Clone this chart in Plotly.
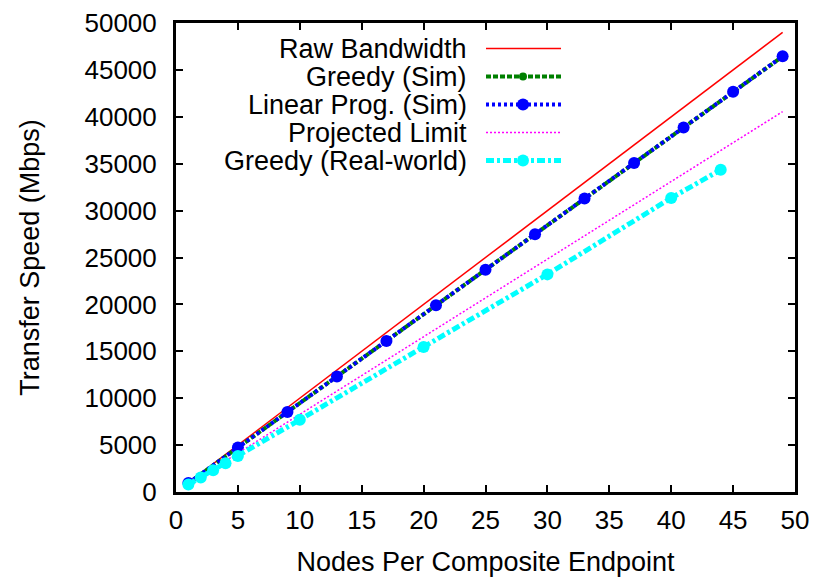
import plotly.graph_objects as go

# ---- data ----
nodes_sim = [1, 5, 9, 13, 17, 21, 25, 29, 33, 37, 41, 45, 49]
raw_bandwidth = [1000, 5000, 9000, 13000, 17000, 21000, 25000, 29000, 33000, 37000, 41000, 45000, 49000]
greedy_sim = [950, 4740, 8520, 12300, 16080, 19880, 23670, 27460, 31250, 35050, 38840, 42640, 46430]
lp_sim = [950, 4750, 8530, 12320, 16110, 19900, 23700, 27490, 31280, 35080, 38870, 42670, 46460]

proj_nodes = [1, 49]
projected_limit = [830, 40550]

real_nodes = [1, 2, 3, 4, 5, 10, 20, 30, 40, 44]
greedy_real = [800, 1550, 2330, 3060, 3830, 7700, 15470, 23200, 31350, 34350]

series_names = ["Raw Bandwidth", "Greedy (Sim)", "Linear Prog. (Sim)",
                "Projected Limit", "Greedy (Real-world)"]

x_title = "Nodes Per Composite Endpoint"
y_title = "Transfer Speed (Mbps)"

# ---- styling ----
FONT = "Liberation Sans, Arial, Helvetica, sans-serif"
RED, GREEN, BLUE, MAGENTA, CYAN = "#ff0000", "#008000", "#0000ff", "#ff00ff", "#00ffff"

styles = [
    dict(line=dict(color=RED, width=1.5), mode="lines"),
    dict(line=dict(color=GREEN, width=4, dash="5px,2px"), mode="lines+markers",
         marker=dict(color=GREEN, size=8, symbol="circle")),
    dict(line=dict(color=BLUE, width=4, dash="3px,3px"), mode="lines+markers",
         marker=dict(color=BLUE, size=12, symbol="circle")),
    dict(line=dict(color=MAGENTA, width=1.5, dash="2px,2px"), mode="lines"),
    dict(line=dict(color=CYAN, width=5, dash="8px,3px,3px,3px"), mode="lines+markers",
         marker=dict(color=CYAN, size=12, symbol="circle")),
]

fig = go.Figure()
data_sets = [
    (nodes_sim, raw_bandwidth),
    (nodes_sim, greedy_sim),
    (nodes_sim, lp_sim),
    (proj_nodes, projected_limit),
    (real_nodes, greedy_real),
]
for (xs, ys), name, st in zip(data_sets, series_names, styles):
    fig.add_trace(go.Scatter(x=xs, y=ys, name=name, showlegend=False, **st))

# ---- custom legend (text right-aligned, sample on the right, like gnuplot) ----
plot_w, plot_h = 619, 469
row_y = [25.5, 53.5, 81.5, 109.5, 137.5]   # px from top of plot area
text_right = 292                            # px from left of plot area
sample_x0, sample_x1, sample_mid = 310, 385, 347
for name, st, ry in zip(series_names, styles, row_y):
    yy = plot_h - ry
    fig.add_trace(go.Scatter(x=[sample_x0, sample_x1], y=[yy, yy], xaxis="x2", yaxis="y2",
                             mode="lines", line=st["line"], showlegend=False, hoverinfo="skip"))
    if "marker" in st:
        fig.add_trace(go.Scatter(x=[sample_mid], y=[yy], xaxis="x2", yaxis="y2",
                                 mode="markers", marker=st["marker"], showlegend=False,
                                 hoverinfo="skip"))
    fig.add_annotation(x=text_right / plot_w, y=yy / plot_h, xref="paper", yref="paper",
                       text=name, showarrow=False, xanchor="right", yanchor="middle",
                       height=27, valign="bottom", borderpad=0, yshift=-2,
                       font=dict(family=FONT, size=27, color="black"))

axis_common = dict(showline=True, linecolor="black", linewidth=3, mirror="ticks",
                   ticks="inside", ticklen=7, tickwidth=2, tickcolor="black",
                   showgrid=False, zeroline=False, automargin=False,
                   ticklabeloverflow="allow",
                   tickfont=dict(family=FONT, size=26, color="black"))

# the page body has an 8px margin, so the figure is sized/placed to compensate
fig.update_layout(
    width=809, height=569,
    margin=dict(l=168, r=22, t=15, b=85),
    paper_bgcolor="white", plot_bgcolor="white",
    showlegend=False,
    xaxis=dict(range=[0, 50], dtick=5, tick0=0, ticklabelstandoff=3,
               title=dict(text=x_title, font=dict(family=FONT, size=27, color="black"),
                          standoff=20),
               **axis_common),
    yaxis=dict(range=[0, 50000], dtick=5000, tick0=0, ticklabelstandoff=11,
               tickformat="d",
               title=dict(text=y_title, font=dict(family=FONT, size=27, color="black"),
                          standoff=38),
               **axis_common),
    xaxis2=dict(range=[0, plot_w], overlaying="x", visible=False, fixedrange=True),
    yaxis2=dict(range=[0, plot_h], overlaying="y", visible=False, fixedrange=True),
    font=dict(family=FONT, color="black"),
)

fig.write_html("out.html")
